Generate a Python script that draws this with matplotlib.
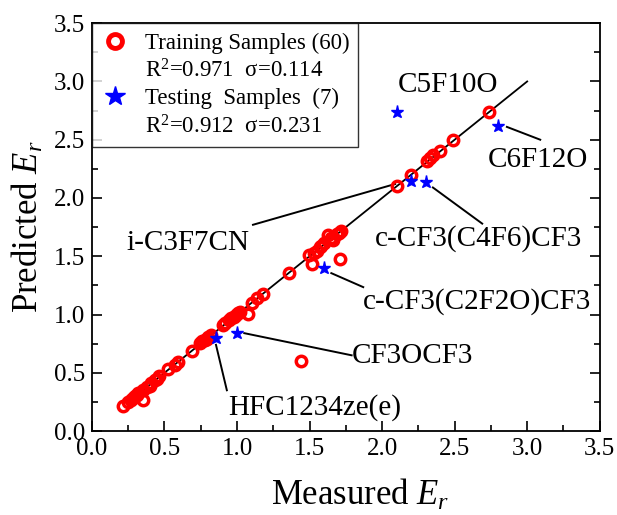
import matplotlib
matplotlib.use("Agg")
import matplotlib.pyplot as plt
from matplotlib.lines import Line2D

plt.rcParams['font.family'] = ['Liberation Serif', 'DejaVu Serif']
plt.rcParams['mathtext.fontset'] = 'custom'
plt.rcParams['mathtext.rm'] = 'Liberation Serif'
plt.rcParams['mathtext.it'] = 'Liberation Serif:italic'

# training samples (measured, predicted)
train_x = [0.214, 0.25, 0.267, 0.28, 0.296, 0.31, 0.32, 0.35, 0.354, 0.38,
           0.40, 0.41, 0.434, 0.45, 0.464, 0.526, 0.57, 0.595, 0.687, 0.744,
           0.76, 0.78, 0.79, 0.80, 0.82, 0.905, 0.92, 0.946, 0.96, 0.978,
           0.99, 1.008, 1.02, 1.077, 1.10, 1.14, 1.176, 1.36, 1.44, 1.498,
           1.52, 1.53, 1.55, 1.57, 1.58, 1.60, 1.63, 1.65, 1.66, 1.686,
           1.70, 1.71, 1.72, 2.10, 2.20, 2.31, 2.33, 2.35, 2.40, 2.49, 2.74]
train_y = [0.214, 0.25, 0.266, 0.28, 0.30, 0.31, 0.33, 0.35, 0.266, 0.375,
           0.39, 0.41, 0.437, 0.45, 0.47, 0.53, 0.57, 0.594, 0.689, 0.752,
           0.77, 0.78, 0.79, 0.81, 0.82, 0.909, 0.93, 0.952, 0.97, 0.98,
           1.00, 1.009, 1.02, 1.003, 1.095, 1.14, 1.175, 1.357, 0.60, 1.51,
           1.43, 1.53, 1.546, 1.58, 1.59, 1.61, 1.68, 1.66, 1.64, 1.695,
           1.70, 1.48, 1.72, 2.10, 2.20, 2.32, 2.34, 2.37, 2.40, 2.50, 2.74]

# testing samples
test_names = ['HFC1234ze(e)', 'CF3OCF3', 'c-CF3(C2F2O)CF3', 'C5F10O',
              'i-C3F7CN', 'c-CF3(C4F6)CF3', 'C6F12O']
test_x = [0.855, 1.0, 1.60, 2.10, 2.20, 2.30, 2.80]
test_y = [0.80, 0.84, 1.40, 2.74, 2.15, 2.14, 2.62]

fit_line = [0.25, 3.0]

# label text position (left, centre) and leader line ends
labels = [
    ('C5F10O', 2.11, 2.97, None),
    ('C6F12O', 2.73, 2.33, ((2.86, 3.09), (2.61, 2.50))),
    ('c-CF3(C4F6)CF3', 1.95, 1.655, ((2.35, 2.69), (2.09, 1.78))),
    ('i-C3F7CN', 0.235, 1.61, ((1.11, 2.09), (1.77, 2.12))),
    ('c-CF3(C2F2O)CF3', 1.87, 1.11, ((1.65, 1.87), (1.355, 1.235))),
    ('CF3OCF3', 1.79, 0.645, ((1.05, 1.79), (0.84, 0.65))),
    ('HFC1234ze(e)', 0.94, 0.20, ((0.855, 0.93), (0.74, 0.35))),
]

fig = plt.figure(figsize=(6.17, 5.15), dpi=100)
ax = fig.add_axes([0.149, 0.163, 0.823, 0.792])

ax.plot(fit_line, fit_line, color='black', lw=1.3, zorder=2)
ax.plot(train_x, train_y, 'o', ms=7.5, mfc='none', mec='red', mew=2.5, zorder=3)
ax.plot(test_x, test_y, '*', ms=9.5, color='blue', mec='blue', zorder=4)

for text, tx, ty, line in labels:
    ax.text(tx, ty, text, fontsize=21, ha='left', va='center')
    if line is not None:
        ax.plot(line[0], line[1], color='black', lw=1.4)

ax.set_xlim(0, 3.5)
ax.set_ylim(0, 3.5)
ax.set_xticks([0.0, 0.5, 1.0, 1.5, 2.0, 2.5, 3.0, 3.5])
ax.set_yticks([0.0, 0.5, 1.0, 1.5, 2.0, 2.5, 3.0, 3.5])
ax.set_xticks([0.25, 0.75, 1.25, 1.75, 2.25, 2.75, 3.25], minor=True)
ax.set_yticks([0.25, 0.75, 1.25, 1.75, 2.25, 2.75, 3.25], minor=True)
ax.tick_params(which='both', direction='in', right=True, top=False,
               labelsize=18, width=1.2)
ax.tick_params(which='major', length=7, pad=5)
ax.tick_params(which='minor', length=4)
for s in ax.spines.values():
    s.set_linewidth(1.3)

ax.set_xlabel('Measured $E_r$', fontsize=25)
ax.xaxis.set_label_coords(0.528, -0.115)
ax.set_ylabel('Predicted $E_r$', fontsize=25, labelpad=6)

blank = Line2D([], [], ls='none', marker='none')
handles = [
    Line2D([], [], ls='none', marker='o', ms=10, mfc='none', mec='red', mew=3.5),
    blank,
    Line2D([], [], ls='none', marker='*', ms=15, color='blue'),
    blank,
]
texts = ['Training Samples (60)', 'R$^2$=0.971  σ=0.114',
         'Testing  Samples  (7)', 'R$^2$=0.912  σ=0.231']
leg = ax.legend(handles, texts, loc='upper left', borderaxespad=0,
                fontsize=16.5, frameon=True, fancybox=False, edgecolor='black',
                handlelength=1.2, handletextpad=0.7, labelspacing=0.25,
                borderpad=0.4)
leg.get_frame().set_linewidth(1.0)

fig.savefig('out.png', dpi=100)
